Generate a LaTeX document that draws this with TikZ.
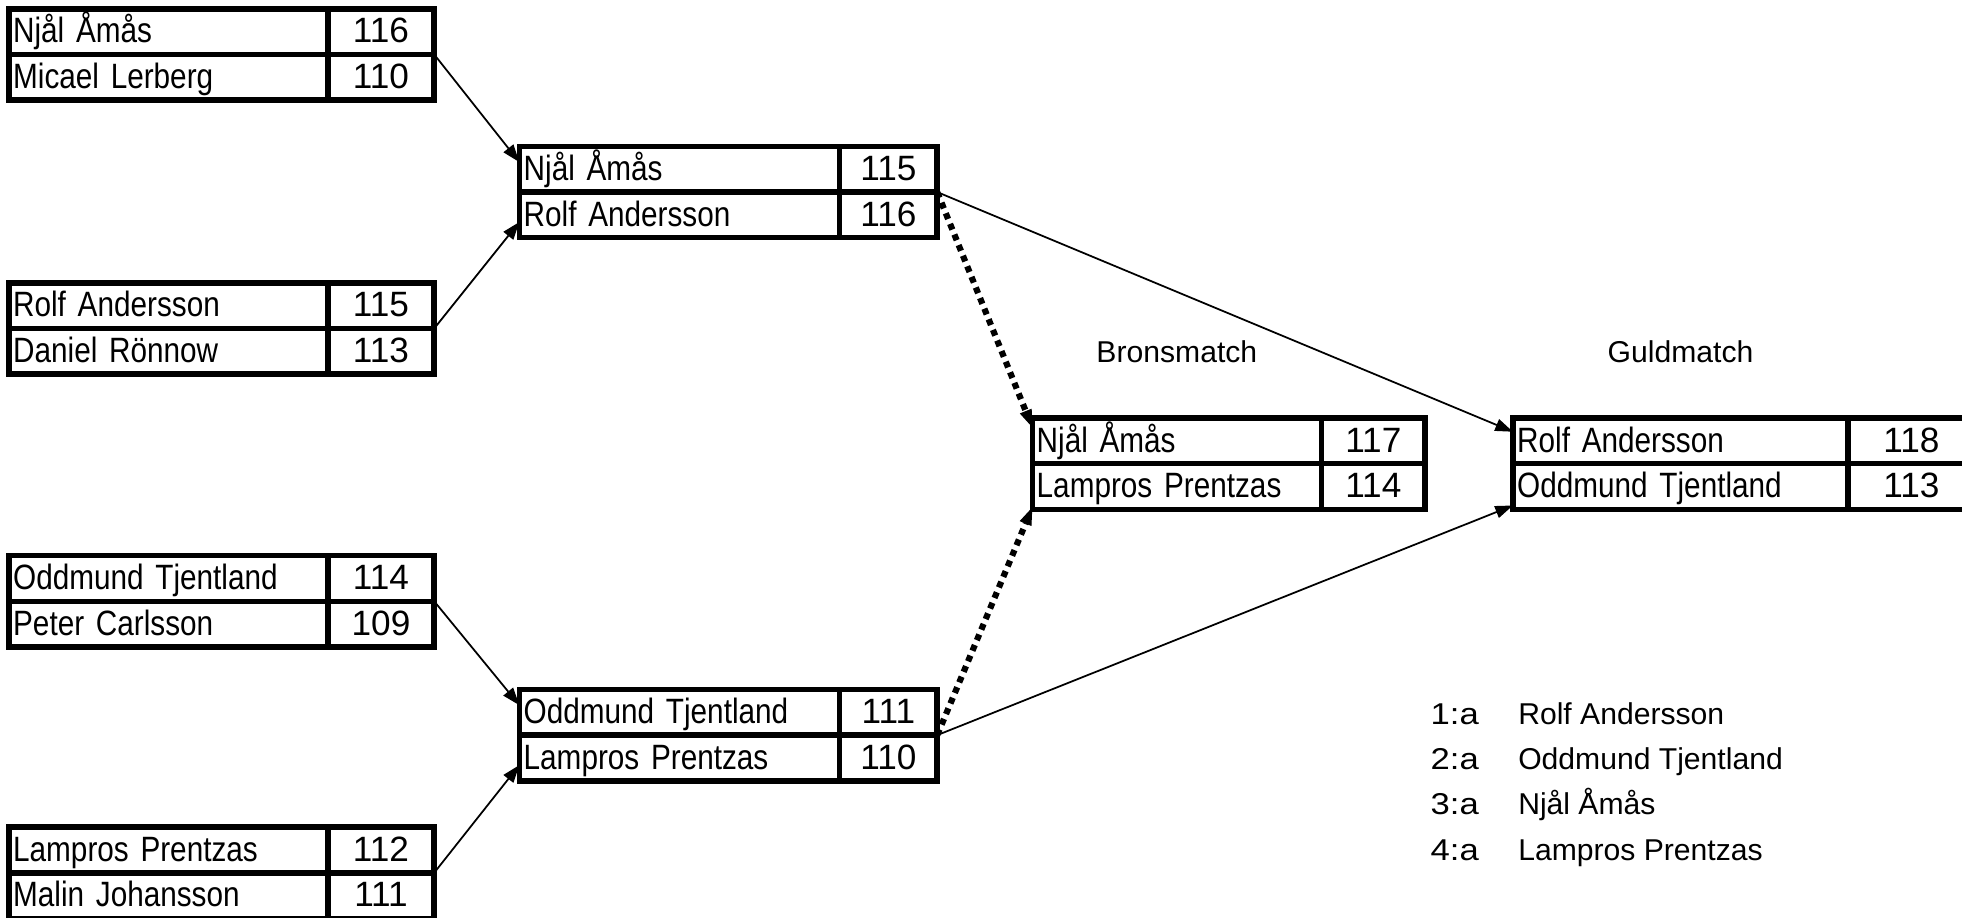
\documentclass[tikz,border=0pt]{standalone}
\usepackage{fontspec}
\setmainfont{Liberation Sans}
\newfontfamily\boxfont[FakeStretch=0.845, WordSpace=0.75]{Liberation Sans}
\newfontfamily\rankfont[FakeStretch=1.15]{Liberation Sans}
\usetikzlibrary{
    arrows.meta,
    positioning,
    calc
}
\newcommand{\boxsize}{\fontsize{16}{19}\selectfont}
\newcommand{\textsize}{\fontsize{13.7}{16}\selectfont}

\begin{document}
\begin{tikzpicture}[
        cell/.style={draw, line width=2.5pt, outer sep=0pt, minimum height=0.73cm,
            text height=11.3pt, text depth=1pt, inner xsep=2pt},
        namecell/.style={cell, minimum width=#1, text width=#1-4pt, align=left,
            font=\boxfont\boxsize},
        scorecell/.style={cell, minimum width=#1, font=\boxsize},
        conn/.style={line width=0.8pt, -{Triangle[length=0.28cm, width=0.2cm, line width=0.5pt]}},
        dotconn/.style={line width=2.8pt, dash pattern=on 2.8pt off 2.4pt,
            -{Triangle[length=0.28cm, width=0.2cm, line width=0.5pt]}},
        heading/.style={font=\textsize},
        legend/.style={anchor=base west, inner sep=0pt, font=\textsize}
    ]
        \useasboundingbox (0,0) rectangle (31.36,-14.66);

        % First round
        \foreach \id/\y/\na/\sa/\nb/\sb in {
            a1/-0.14/Njål Åmås/116/Micael Lerberg/110,
            a2/-4.52/Rolf Andersson/115/Daniel Rönnow/113,
            a3/-8.88/Oddmund Tjentland/114/Peter Carlsson/109,
            a4/-13.22/Lampros Prentzas/112/Malin Johansson/111} {
            \node[namecell=5.10cm, anchor=north west] (\id n1) at (0.14,\y) {\na};
            \node[scorecell=1.70cm, right=0pt of \id n1] (\id p1) {\sa};
            \node[namecell=5.10cm, below=0pt of \id n1] (\id n2) {\nb};
            \node[scorecell=1.70cm, right=0pt of \id n2] (\id p2) {\sb};
        }

        % Semifinals
        \foreach \id/\y/\na/\sa/\nb/\sb in {
            s1/-2.34/Njål Åmås/115/Rolf Andersson/116,
            s2/-11.02/Oddmund Tjentland/111/Lampros Prentzas/110} {
            \node[namecell=5.12cm, anchor=north west] (\id n1) at (8.30,\y) {\na};
            \node[scorecell=1.56cm, right=0pt of \id n1] (\id p1) {\sa};
            \node[namecell=5.12cm, below=0pt of \id n1] (\id n2) {\nb};
            \node[scorecell=1.56cm, right=0pt of \id n2] (\id p2) {\sb};
        }

        % Bronze match
        \node[heading] (bronze) at (18.81,-5.62) {Bronsmatch};
        \node[namecell=4.62cm, anchor=north west] (bn1) at (16.50,-6.68) {Njål Åmås};
        \node[scorecell=1.66cm, right=0pt of bn1] (bp1) {117};
        \node[namecell=4.62cm, below=0pt of bn1] (bn2) {Lampros Prentzas};
        \node[scorecell=1.66cm, right=0pt of bn2] (bp2) {114};

        % Gold match
        \node[heading] (gold) at (26.86,-5.62) {Guldmatch};
        \node[namecell=5.36cm, anchor=north west] (gn1) at (24.18,-6.68) {Rolf Andersson};
        \node[scorecell=2.02cm, right=0pt of gn1] (gp1) {118};
        \node[namecell=5.36cm, below=0pt of gn1] (gn2) {Oddmund Tjentland};
        \node[scorecell=2.02cm, right=0pt of gn2] (gp2) {113};

        % Connectors
        \draw[conn] (a1p1.south east) -- ([yshift=-0.25cm]s1n1.north west);
        \draw[conn] (a2p1.south east) -- ([yshift=0.25cm]s1n2.south west);
        \draw[conn] (a3p1.south east) -- ([yshift=-0.25cm]s2n1.north west);
        \draw[conn] (a4p1.south east) -- ([yshift=0.25cm]s2n2.south west);
        \draw[conn] (s1p1.south east) -- ([yshift=-0.22cm]gn1.north west);
        \draw[conn] (s2p1.south east) -- ([yshift=0.06cm]gn2.south west);
        \draw[dotconn] (s1p1.south east) -- ([yshift=-0.15cm]bn1.north west);
        \draw[dotconn] (s2p1.south east) -- ([yshift=0.03cm]bn2.south west);

        % Final standings
        \foreach \r/\y/\who in {1/-11.58/Rolf Andersson, 2/-12.30/Oddmund Tjentland,
                                3/-13.02/Njål Åmås, 4/-13.76/Lampros Prentzas} {
            \node[legend, font=\rankfont\textsize] (r\r) at (22.86,\y) {\r:a};
            \node[legend] (w\r) at (24.26,\y) {\who};
        }
    \end{tikzpicture}
\end{document}
